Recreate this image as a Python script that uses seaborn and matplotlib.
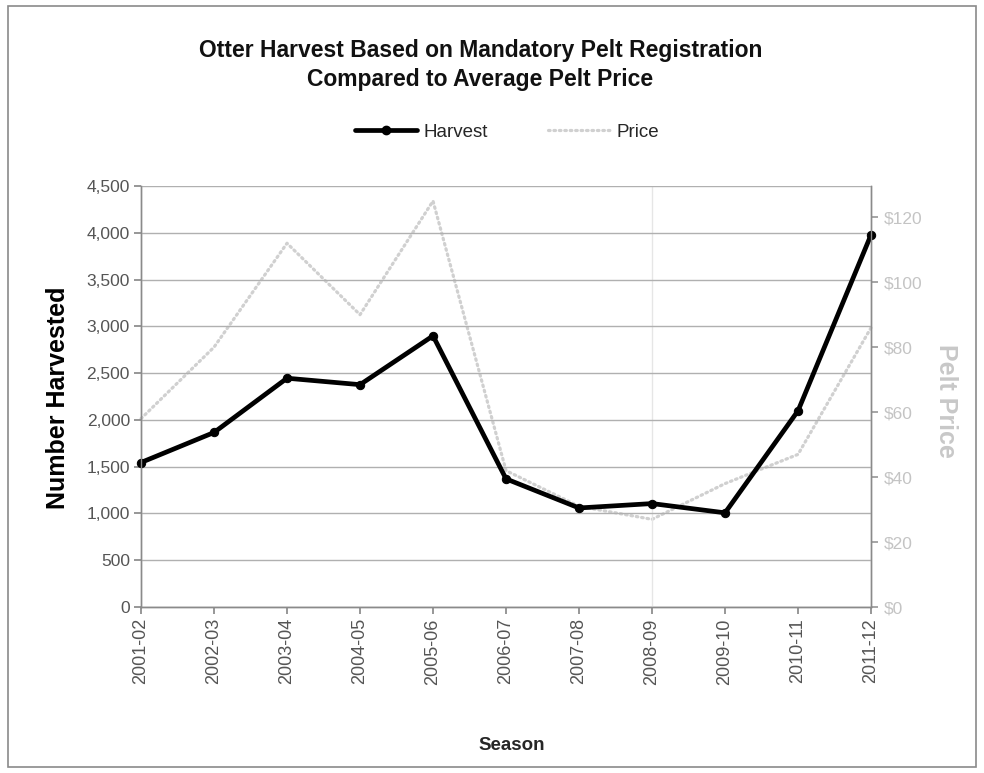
import matplotlib
matplotlib.use("Agg")
import matplotlib.pyplot as plt
import seaborn as sns
import pandas as pd
from matplotlib.lines import Line2D
from matplotlib.patches import Rectangle
from matplotlib.ticker import FuncFormatter, MultipleLocator

# Otter harvest (mandatory pelt registration) and average pelt price by season
seasons = ["2001-02", "2002-03", "2003-04", "2004-05", "2005-06", "2006-07",
           "2007-08", "2008-09", "2009-10", "2010-11", "2011-12"]
harvest = [1545, 1866, 2446, 2377, 2899, 1370, 1059, 1106, 1007, 2098, 3979]
price = [58, 80, 112, 90, 125, 42, 31, 27, 38, 47, 86]

df = pd.DataFrame({"pos": range(len(seasons)), "Season": seasons,
                   "Harvest": harvest, "Price": price})

sns.set_theme(style="white")
plt.rcParams["font.family"] = ["Liberation Sans", "DejaVu Sans"]

fig = plt.figure(figsize=(9.84, 7.73), dpi=100)
fig.patch.set_facecolor("white")
fig.patches.append(Rectangle((0.008, 0.008), 0.984, 0.984, transform=fig.transFigure,
                             fill=False, edgecolor="#8a8a8a", linewidth=1.2))

ax = fig.add_axes([0.1433, 0.2147, 0.7419, 0.5446])
ax2 = ax.twinx()

price_color = "#d0d0d0"
price_dash = (0, (0.5, 1.2))
sns.lineplot(data=df, x="pos", y="Price", ax=ax2, color=price_color,
             linewidth=2.3, linestyle=price_dash, dash_capstyle="round",
             clip_on=False, legend=False)
sns.lineplot(data=df, x="pos", y="Harvest", ax=ax, color="black", linewidth=3.4,
             marker="o", markersize=6, markeredgecolor="black", clip_on=False,
             legend=False)

# harvest axis on top of the price axis
ax.set_zorder(ax2.zorder + 1)
ax.patch.set_visible(False)

ax.set_xlim(0, len(seasons) - 1)
ax.set_ylim(0, 4500)
ax.yaxis.set_major_locator(MultipleLocator(500))
ax.yaxis.set_major_formatter(FuncFormatter(lambda v, p: f"{int(v):,}"))
ax.set_xticks(df["pos"])
ax.set_xticklabels(seasons, rotation=90, fontsize=13, color="#555555")
ax.tick_params(axis="y", labelsize=12.5, labelcolor="#555555", length=5,
               color="#8a8a8a", direction="out", left=True, pad=3)
ax.tick_params(axis="x", length=5, color="#8a8a8a", direction="out", bottom=True, pad=3)
ax.grid(axis="y", color="#b0b0b0", linewidth=1.0)
ax.axvline(7, color="#e6e6e6", linewidth=1.0, zorder=0)

ax2.set_ylim(0, 129.6)
ax2.yaxis.set_major_locator(MultipleLocator(20))
ax2.yaxis.set_major_formatter(FuncFormatter(lambda v, p: f"${int(v)}"))
ax2.tick_params(axis="y", labelsize=12.5, labelcolor="#c4c4c4", length=5,
                color="#9a9a9a", direction="out", right=True, pad=4)
ax2.grid(False)

for a in (ax, ax2):
    a.spines["top"].set_visible(False)
    for side in ("left", "right", "bottom"):
        a.spines[side].set_color("#8a8a8a")
        a.spines[side].set_linewidth(1.0)

ax.set_xlabel("")
ax.set_ylabel("")
ax2.set_ylabel("")
fig.text(0.059, 0.486, "Number Harvested", rotation=90, ha="center", va="center",
         fontsize=18, fontweight="bold", color="black")
fig.text(0.961, 0.481, "Pelt Price", rotation=270, ha="center", va="center",
         fontsize=18, fontweight="bold", color="#c8c8c8")
fig.text(0.52, 0.036, "Season", ha="center", va="center", fontsize=13.5,
         fontweight="bold")

fig.text(0.488, 0.916, "Otter Harvest Based on Mandatory Pelt Registration\n"
         "Compared to Average Pelt Price", ha="center", va="center",
         fontsize=16.5, fontweight="bold", linespacing=1.3, color="#111111")

handles = [Line2D([], [], color="black", linewidth=3.4, marker="o", markersize=6),
           Line2D([], [], color=price_color, linewidth=2.3, linestyle=price_dash,
                  dash_capstyle="round")]
fig.legend(handles, ["Harvest", "Price"], loc="center", bbox_to_anchor=(0.515, 0.829),
           ncol=2, frameon=False, handlelength=3.3, columnspacing=3.2,
           handletextpad=0.35, prop={"size": 13.5})

fig.savefig("out.png", dpi=100, facecolor="white")
